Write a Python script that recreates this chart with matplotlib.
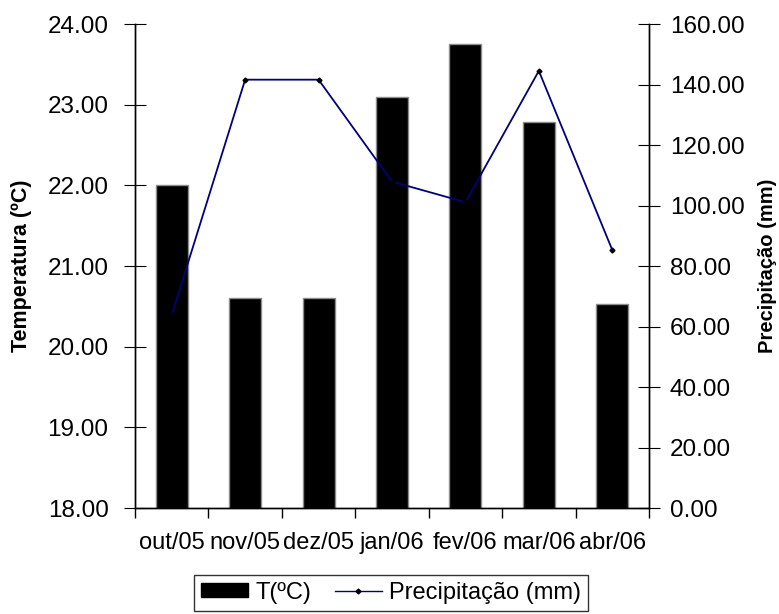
#!/usr/bin/env python
# -*- coding: utf-8 -*-

import matplotlib
matplotlib.use("Agg")
import matplotlib.pyplot as plt
from matplotlib.patches import Patch
from matplotlib.lines import Line2D
from matplotlib.ticker import FormatStrFormatter

# dados
meses = ["out/05", "nov/05", "dez/05", "jan/06", "fev/06", "mar/06", "abr/06"]
temperatura = [22.0, 20.6, 20.6, 23.1, 23.75, 22.78, 20.53]
precipitacao = [63.8, 141.6, 141.6, 107.9, 101.1, 144.5, 85.3]

plt.rcParams['font.family'] = ['Liberation Sans', 'DejaVu Sans']

fig = plt.figure(figsize=(7.79, 6.14), dpi=100)
ax = fig.add_axes([0.1733, 0.1726, 0.6598, 0.7883])
ax2 = ax.twinx()

x = list(range(len(meses)))
ax.bar(x, temperatura, width=0.436, bottom=0, color="black",
       edgecolor="#8c8c8c", linewidth=1, zorder=2)
ax2.plot(x, precipitacao, color="#000080", linewidth=1.3,
         marker="D", markersize=2.5, markerfacecolor="black",
         markeredgecolor="black", zorder=3)

# eixo x: tracos entre as categorias, rotulos no centro
ax.set_xlim(-0.5, len(meses) - 0.5)
ax.set_xticks([i - 0.5 for i in range(len(meses) + 1)])
ax.set_xticklabels([])
ax.set_xticks(x, minor=True)
ax.set_xticklabels(meses, minor=True, fontsize=17)
ax.tick_params(axis="x", which="major", direction="out", length=7, width=1)
ax.tick_params(axis="x", which="minor", length=0, pad=17)

# eixos y com tracos cruzados
ax.set_ylim(18, 24)
ax.set_yticks(range(18, 25))
ax.yaxis.set_major_formatter(FormatStrFormatter("%.2f"))
ax.tick_params(axis="y", direction="inout", length=16, labelsize=17.5, pad=11)

ax2.set_ylim(0, 160)
ax2.set_yticks(range(0, 161, 20))
ax2.yaxis.set_major_formatter(FormatStrFormatter("%.2f"))
ax2.tick_params(axis="y", direction="inout", length=16, labelsize=17.5, pad=7)

for a in (ax, ax2):
    a.spines["top"].set_visible(False)
    for s in ("left", "right", "bottom"):
        a.spines[s].set_linewidth(1)

ax.set_ylabel("Temperatura (ºC)", fontsize=15.5, fontweight="bold")
ax.yaxis.set_label_coords(-0.2004, 0.5)
ax2.set_ylabel("Precipitação (mm)", fontsize=14.5, fontweight="bold",
               rotation=90)
ax2.yaxis.set_label_coords(1.212, 0.5)

# legenda
handles = [Patch(facecolor="black", edgecolor="black"),
           Line2D([], [], color="#000080", linewidth=1, marker="D",
                  markersize=2.5, markerfacecolor="black",
                  markeredgecolor="black")]
leg = fig.legend(handles, ["T(ºC)", "Precipitação (mm)"], ncol=2,
                 loc="lower center", bbox_to_anchor=(0.502, -0.014),
                 fontsize=17, frameon=True, fancybox=False,
                 edgecolor="black", handlelength=2.0, handleheight=0.55,
                 handletextpad=0.3, columnspacing=1.0, borderpad=0.3)
leg.get_frame().set_linewidth(1)

fig.savefig("out.png", dpi=100)
